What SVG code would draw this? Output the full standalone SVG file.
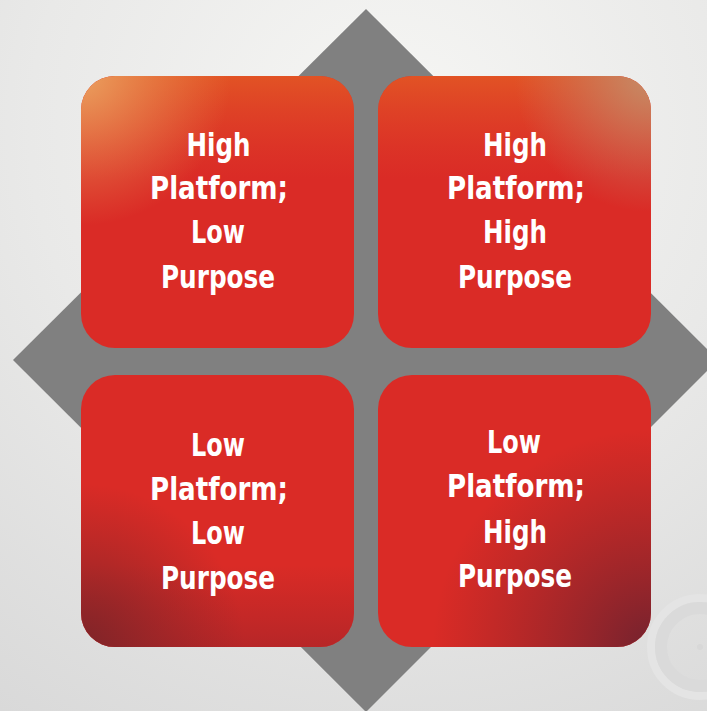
<svg xmlns="http://www.w3.org/2000/svg" width="707" height="711" viewBox="0 0 707 711">
<defs>
<radialGradient id="bg" cx="390" cy="130" r="720" gradientUnits="userSpaceOnUse">
<stop offset="0" stop-color="#f6f6f4"/>
<stop offset="0.5" stop-color="#e9e9e8"/>
<stop offset="1" stop-color="#d8d8d8"/>
</radialGradient>
<linearGradient id="topOrange" x1="0" y1="0" x2="0" y2="1">
<stop offset="0" stop-color="#e35a24" stop-opacity="0.85"/>
<stop offset="0.38" stop-color="#e0452a" stop-opacity="0"/>
</linearGradient>
<radialGradient id="tlCorner" cx="0" cy="0" r="0.55">
<stop offset="0" stop-color="#eba463" stop-opacity="0.95"/>
<stop offset="1" stop-color="#e8904f" stop-opacity="0"/>
</radialGradient>
<radialGradient id="trCorner" cx="1" cy="0" r="0.5">
<stop offset="0" stop-color="#c58c68" stop-opacity="1"/>
<stop offset="1" stop-color="#c88062" stop-opacity="0"/>
</radialGradient>
<radialGradient id="blCorner" cx="0" cy="1" r="0.6">
<stop offset="0" stop-color="#7e2428" stop-opacity="1"/>
<stop offset="1" stop-color="#8a2528" stop-opacity="0"/>
</radialGradient>
<linearGradient id="bottomDark" x1="0" y1="0" x2="0" y2="1">
<stop offset="0.7" stop-color="#a82428" stop-opacity="0"/>
<stop offset="1" stop-color="#a82428" stop-opacity="0.7"/>
</linearGradient>
<radialGradient id="brCorner" cx="1" cy="1" r="0.8">
<stop offset="0" stop-color="#74222e" stop-opacity="1"/>
<stop offset="1" stop-color="#8a2428" stop-opacity="0"/>
</radialGradient>
<style>
.box { fill: #da2b26; }
.lbl { font-family: "DejaVu Sans Condensed", "DejaVu Sans", "Liberation Sans", sans-serif; font-weight: bold; font-size: 32px; fill: #ffffff; text-anchor: middle; }
</style>
</defs>
<rect x="0" y="0" width="707" height="711" fill="url(#bg)"/>
<g id="logo" fill="none">
<circle cx="700" cy="647" r="49" stroke="#e4e4e4" stroke-width="8"/>
<circle cx="700" cy="647" r="39" stroke="#dadada" stroke-width="12"/>
<circle cx="700" cy="647" r="3" fill="#d8d8d8"/>
</g>
<g id="diamond">
<polygon points="366,9 718,360 366,712 13,360" fill="#808080"/>
</g>
<g id="node-tl">
<rect class="box" x="81" y="76" width="273" height="272" rx="34"/>
<rect x="81" y="76" width="273" height="272" rx="34" fill="url(#topOrange)"/>
<rect x="81" y="76" width="273" height="272" rx="34" fill="url(#tlCorner)"/>
<text class="lbl" x="218.5" y="156" textLength="64" lengthAdjust="spacingAndGlyphs">High</text>
<text class="lbl" x="219" y="199" textLength="138" lengthAdjust="spacingAndGlyphs">Platform;</text>
<text class="lbl" x="218" y="243" textLength="54" lengthAdjust="spacingAndGlyphs">Low</text>
<text class="lbl" x="218" y="288" textLength="114" lengthAdjust="spacingAndGlyphs">Purpose</text>
</g>
<g id="node-tr">
<rect class="box" x="378" y="76" width="273" height="272" rx="34"/>
<rect x="378" y="76" width="273" height="272" rx="34" fill="url(#topOrange)"/>
<rect x="378" y="76" width="273" height="272" rx="34" fill="url(#trCorner)"/>
<text class="lbl" x="515" y="156" textLength="64" lengthAdjust="spacingAndGlyphs">High</text>
<text class="lbl" x="516" y="199" textLength="138" lengthAdjust="spacingAndGlyphs">Platform;</text>
<text class="lbl" x="515" y="243" textLength="64" lengthAdjust="spacingAndGlyphs">High</text>
<text class="lbl" x="515" y="288" textLength="114" lengthAdjust="spacingAndGlyphs">Purpose</text>
</g>
<g id="node-bl">
<rect class="box" x="81" y="375" width="273" height="272" rx="34"/>
<rect x="81" y="375" width="273" height="272" rx="34" fill="url(#bottomDark)"/>
<rect x="81" y="375" width="273" height="272" rx="34" fill="url(#blCorner)"/>
<text class="lbl" x="218" y="456" textLength="54" lengthAdjust="spacingAndGlyphs">Low</text>
<text class="lbl" x="219" y="500" textLength="138" lengthAdjust="spacingAndGlyphs">Platform;</text>
<text class="lbl" x="218" y="544" textLength="54" lengthAdjust="spacingAndGlyphs">Low</text>
<text class="lbl" x="218" y="589" textLength="114" lengthAdjust="spacingAndGlyphs">Purpose</text>
</g>
<g id="node-br">
<rect class="box" x="378" y="375" width="273" height="272" rx="34"/>
<rect x="378" y="375" width="273" height="272" rx="34" fill="url(#brCorner)"/>
<text class="lbl" x="514" y="453" textLength="54" lengthAdjust="spacingAndGlyphs">Low</text>
<text class="lbl" x="516" y="497" textLength="138" lengthAdjust="spacingAndGlyphs">Platform;</text>
<text class="lbl" x="515" y="543" textLength="64" lengthAdjust="spacingAndGlyphs">High</text>
<text class="lbl" x="515" y="587" textLength="114" lengthAdjust="spacingAndGlyphs">Purpose</text>
</g>
<g id="connectors"/>
</svg>
